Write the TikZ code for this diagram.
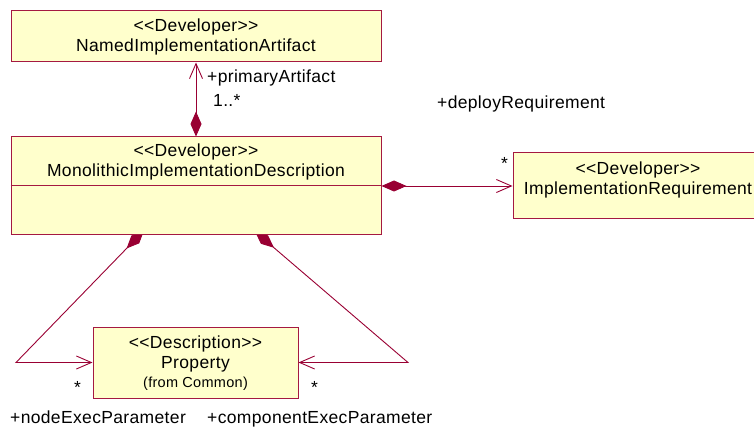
\documentclass[tikz,border=0pt]{standalone}
\usepackage{fontspec}
\setmainfont{Liberation Sans}[Ligatures=TeXOff, LetterSpace=2]
\usetikzlibrary{arrows.meta,backgrounds}
\definecolor{umlline}{RGB}{153,0,51}
\definecolor{umlborder}{RGB}{165,25,65}
\definecolor{umlfill}{RGB}{255,255,204}
\begin{document}
\begin{tikzpicture}[x=1pt,y=-1pt,
  classbox/.style={draw=umlborder, fill=umlfill, line width=1pt, rectangle, inner sep=0pt},
  boxtext/.style={font=\fontsize{17.5}{20}\selectfont, align=center, inner sep=0pt},
  rolelabel/.style={font=\fontsize{17.5}{20}\selectfont, inner sep=0pt, anchor=base west},
  composition/.style={draw=umlline, line width=0.9pt,
    {Diamond[length=25pt,width=11pt,fill=umlline]}-{Straight Barb[length=15pt,width=13pt,line width=0.9pt]}},
]
\useasboundingbox (0,0) rectangle (754,427);
\clip (0,0) rectangle (754,427);

% classes
\node[classbox, minimum width=370pt, minimum height=51pt] (nia) at (196,36.5) {};
\node[boxtext] (niatext) at (196,37) {<<Developer>>\\NamedImplementationArtifact};

\node[classbox, minimum width=370pt, minimum height=98pt] (mid) at (196,186) {};
\draw[umlborder, line width=1pt] (mid.west) -- (mid.east);
\node[boxtext] (midtext) at (196,162) {<<Developer>>\\MonolithicImplementationDescription};

\node[classbox, minimum width=250pt, minimum height=66pt] (ireq) at (638,186) {};
\node[boxtext] (ireqtext) at (638,180) {<<Developer>>\\ImplementationRequirement};

\node[classbox, minimum width=205pt, minimum height=71pt] (prop) at (195.5,362.5) {};
\node[boxtext] (proptext) at (195.5,363) {<<Description>>\\Property\\[-1pt]{\fontsize{14.5}{16}\selectfont (from Common)}};

% bend points of the two parameter associations
\coordinate (lbend) at (16,362.5);
\coordinate (rbend) at (408,362.5);

% associations
\begin{scope}[on background layer]
  \draw[composition] (mid.north) -- (nia.south);
  \draw[composition] (mid.east) -- (ireq.west);
  \draw[composition] ([xshift=-52pt,yshift=5pt]mid.south) -- (lbend) -- (prop.west);
  \draw[composition] ([xshift=59pt,yshift=4pt]mid.south) -- (rbend) -- (prop.east);
\end{scope}

% role names and multiplicities
\node[rolelabel] (rprimary) at (207,83) {+primaryArtifact};
\node[rolelabel] (mprimary) at (213,107) {1..*};
\node[rolelabel] (rdeploy) at (437,109) {+deployRequirement};
\node[rolelabel] (mdeploy) at (501,170) {*};
\node[rolelabel] (mnode) at (74,393) {*};
\node[rolelabel] (mcomp) at (311,393) {*};
\node[rolelabel] (rnode) at (10,423) {+nodeExecParameter};
\node[rolelabel] (rcomp) at (207,423) {+componentExecParameter};
\end{tikzpicture}
\end{document}
